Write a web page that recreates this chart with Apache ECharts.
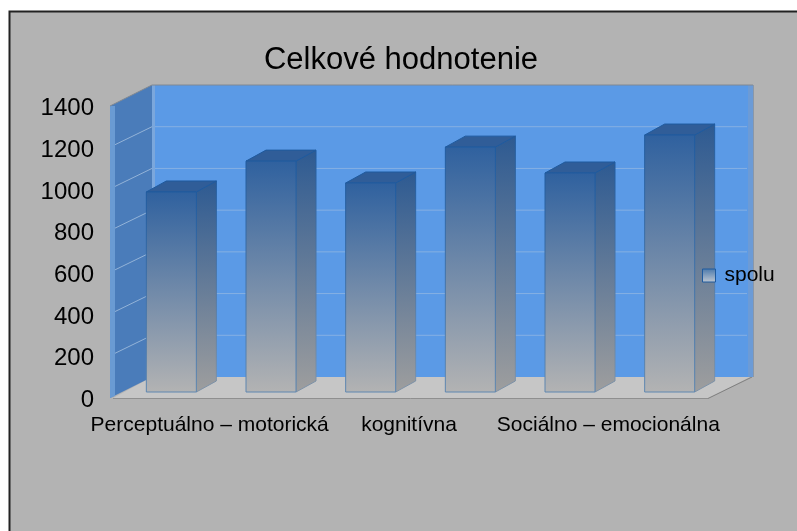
<!DOCTYPE html>
<html>
<head>
<meta charset="utf-8">
<style>
  html, body { margin: 0; padding: 0; background: #fff; }
  #main { width: 797px; height: 531px; }
</style>
<script src="https://cdn.jsdelivr.net/npm/echarts@6/dist/echarts.min.js"></script>
</head>
<body>
<div id="main"></div>
<script>
var categories = ['A', 'B', 'C', 'D', 'E', 'F'];
var axisLabels = ['Perceptuálno – motorická', 'kognitívna', 'Sociálno – emocionálna'];
var values = [959, 1107, 1002, 1174, 1050, 1232];
var yTicks = [0, 200, 400, 600, 800, 1000, 1200, 1400];

var FONT = '"Liberation Sans", Arial, sans-serif';
var wallDepth = [42, -21]; // how far the back wall sits from the front plane
var barDepth = [20, -11];
var barShift = [11.5, -6];
var barWidth = 50;

var chart = echarts.init(document.getElementById('main'));

function vGrad(a, b) {
  return new echarts.graphic.LinearGradient(0, 0, 0, 1, [
    { offset: 0, color: a },
    { offset: 1, color: b }
  ]);
}

function poly(points, fill, stroke, w) {
  return {
    type: 'polygon',
    shape: { points: points },
    style: { fill: fill, stroke: stroke || null, lineWidth: w || 0 }
  };
}

function line(p1, p2, color, w) {
  return {
    type: 'line',
    shape: { x1: p1[0], y1: p1[1], x2: p2[0], y2: p2[1] },
    style: { stroke: color, lineWidth: w || 1 }
  };
}

// walls and floor of the fake 3d box, taken from the axis extents
function renderWalls(params, api) {
  var cs = params.coordSys;
  var dx = wallDepth[0], dy = wallDepth[1];
  var l = cs.x, r = cs.x + cs.width;
  var bottom = api.coord([0, 0])[1], top = api.coord([0, 1400])[1];
  var kids = [];

  // back wall
  kids.push(poly([[l + dx, top + dy], [r + dx, top + dy], [r + dx, bottom + dy], [l + dx, bottom + dy]], '#5b9ae6'));
  // floor
  kids.push(poly([[l + 3, bottom], [r, bottom], [r + dx, bottom + dy], [l + dx, bottom + dy]], '#c6c6c6'));
  kids.push(line([l + 3, bottom + 0.5], [r, bottom + 0.5], '#8f8f8f'));
  kids.push(line([r, bottom + 0.5], [r + dx + 2, bottom + dy], '#808080'));
  // side wall
  kids.push(poly([[l, top], [l + dx, top + dy], [l + dx, bottom + dy], [l, bottom]], '#4a7cba'));
  kids.push(poly([[l, top], [l + 5, top], [l + 5, bottom - 2], [l, bottom]], '#6a9bd3'));
  kids.push(poly([[l + dx, top + dy], [l + dx + 3, top + dy], [l + dx + 3, bottom + dy - 4], [l + dx, bottom + dy - 2]], '#7ba7dc'));
  // grid lines on both walls
  yTicks.forEach(function (t) {
    if (t === 0 || t === 1400) return;
    var y = api.coord([0, t])[1];
    kids.push(line([l + 5, y - 3], [l + dx, y + dy], '#93b3d8'));
    kids.push(line([l + dx + 3, y + dy], [r + dx - 3, y + dy], '#86b0e3'));
  });
  // right edge strip and top outline
  kids.push(poly([[r + dx - 2, top + dy], [r + dx + 3, top + dy], [r + dx + 3, bottom + dy], [r + dx - 2, bottom + dy]], '#6c9bd6'));
  kids.push(line([l, top], [l + dx, top + dy], '#808892'));
  kids.push(line([l + dx, top + dy], [r + dx + 3, top + dy], '#808892'));
  kids.push(line([r + dx + 3.5, top + dy], [r + dx + 3.5, bottom + dy], '#8a97a8'));
  return { type: 'group', children: kids };
}

function renderBar(params, api) {
  var base = api.coord([api.value(0), 0]);
  var head = api.coord([api.value(0), api.value(1)]);
  var x0 = base[0] + barShift[0] - barWidth / 2, x1 = x0 + barWidth;
  var yb = base[1] + barShift[1], yt = head[1] + barShift[1];
  var dx = barDepth[0], dy = barDepth[1];
  return {
    type: 'group',
    children: [
      poly([[x1, yt], [x1 + dx, yt + dy], [x1 + dx, yb + dy], [x1, yb]], vGrad('#2d5a92', '#9e9e9e'), vGrad('#1f5a9e', '#7f93a8'), 1),
      poly([[x0, yt], [x0 + dx, yt + dy], [x1 + dx, yt + dy], [x1, yt]], '#305d98', '#1f5a9e', 1),
      poly([[x0, yt], [x1, yt], [x1, yb], [x0, yb]], vGrad('#2f619f', '#b3b3b3'), vGrad('#1f5a9e', '#5f87b0'), 1)
    ]
  };
}

var option = {
  animation: false,
  backgroundColor: '#ffffff',
  textStyle: { fontFamily: FONT },
  graphic: [{
    type: 'rect',
    z: -10,
    silent: true,
    shape: { x: 9.5, y: 11.5, width: 800, height: 530 },
    style: { fill: '#b3b3b3', stroke: '#222222', lineWidth: 2 }
  }],
  title: {
    text: 'Celkové hodnotenie',
    left: 396,
    top: 40,
    textAlign: 'center',
    textStyle: { fontFamily: FONT, fontSize: 31, fontWeight: 'normal', color: '#000000' }
  },
  legend: {
    left: 697,
    top: 260,
    itemWidth: 13,
    itemHeight: 13,
    itemGap: 0,
    textStyle: { fontFamily: FONT, fontSize: 21, color: '#000000', padding: [0, 0, 0, 4] },
    data: [{
      name: 'spolu',
      icon: 'rect',
      itemStyle: { color: vGrad('#4a78ab', '#c0c8d2'), borderColor: '#1f5a9e', borderWidth: 1 }
    }]
  },
  grid: { left: 110, right: 89, top: 106, bottom: 133 },
  xAxis: [
    { type: 'category', data: categories, show: false },
    {
      type: 'category',
      data: axisLabels,
      position: 'bottom',
      axisLine: { show: false },
      axisTick: { show: false },
      axisLabel: { fontFamily: FONT, fontSize: 21, color: '#000000', margin: 17, interval: 0 }
    }
  ],
  yAxis: {
    type: 'value',
    min: 0,
    max: 1400,
    interval: 200,
    axisLine: { show: false },
    axisTick: { show: false },
    splitLine: { show: false },
    axisLabel: {
      margin: 16,
      formatter: function (v) { return '{t|' + v + '}'; },
      rich: {
        t: { fontFamily: FONT, fontSize: 24, color: '#000000', padding: [5, 0, 0, 0] }
      }
    }
  },
  series: [
    {
      type: 'custom',
      name: 'walls',
      silent: true,
      z: 1,
      renderItem: renderWalls,
      data: [0],
      encode: { x: 0 }
    },
    {
      type: 'custom',
      name: 'spolu',
      z: 2,
      renderItem: renderBar,
      encode: { x: 0, y: 1 },
      data: values.map(function (v, i) { return [i, v]; })
    }
  ]
};

chart.setOption(option);
</script>
</body>
</html>
